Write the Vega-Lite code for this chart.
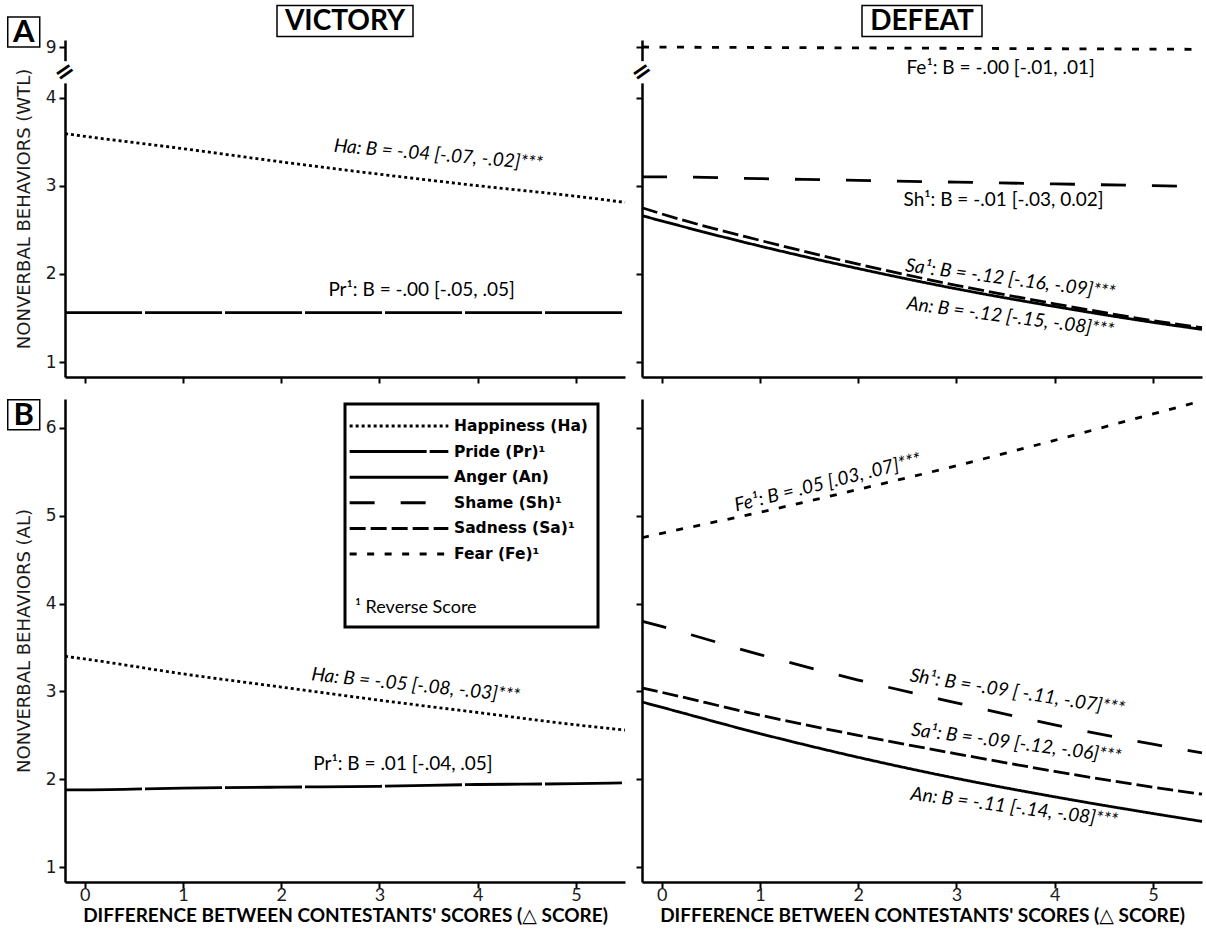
{
  "$schema": "https://vega.github.io/schema/vega-lite/v6.json",
  "padding": {"left": 4, "top": 2, "right": 4, "bottom": 2},
  "background": "white",
  "config": {
    "view": {"stroke": null},
    "axis": {"domainColor": "black", "domainWidth": 2.5, "tickColor": "black", "tickWidth": 2, "tickSize": 6, "grid": false, "labelColor": "#1a1a1a", "titleColor": "#1a1a1a"},
    "legend": {"strokeWidth": 3, "strokeColor": "black"}
  },
  "spacing": 11,
  "resolve": {"scale": {"strokeDash": "shared"}, "legend": {"strokeDash": "shared"}},
  "vconcat": [
    {
      "spacing": 17,
      "bounds": "flush",
      "hconcat": [
        {
          "width": 560, "height": 337,
          "encoding": {
            "x": {"field": "x", "type": "quantitative", "scale": {"domain": [-0.2, 5.5], "nice": false, "zero": false}, "axis": {"values": [0,1,2,3,4,5], "labels": false, "title": null}},
            "y": {"field": "y", "type": "quantitative", "scale": {"domain": [0.83, 4, 9, 9.7], "range": [337, 57.5, 7, 0], "nice": false, "zero": false}, "axis": {"values": [1,2,3,4,9], "title": "NONVERBAL BEHAVIORS (WTL)", "labelFont": "DejaVu Sans", "labelFontSize": 17, "labelPadding": 3, "titleFont": "DejaVu Sans", "titleFontSize": 18, "titleFontWeight": "normal", "titlePadding": 12}}
          },
          "layer": [
            {
              "data": {"values": [
                {"emotion": "Happiness (Ha)", "x": -0.2, "y": 3.59}, {"emotion": "Happiness (Ha)", "x": 0, "y": 3.56}, {"emotion": "Happiness (Ha)", "x": 1, "y": 3.42}, {"emotion": "Happiness (Ha)", "x": 2, "y": 3.27}, {"emotion": "Happiness (Ha)", "x": 3, "y": 3.13}, {"emotion": "Happiness (Ha)", "x": 4, "y": 3.0}, {"emotion": "Happiness (Ha)", "x": 5, "y": 2.88}, {"emotion": "Happiness (Ha)", "x": 5.5, "y": 2.81},
                {"emotion": "Pride (Pr)¹", "x": -0.2, "y": 1.56}, {"emotion": "Pride (Pr)¹", "x": 0, "y": 1.56}, {"emotion": "Pride (Pr)¹", "x": 1, "y": 1.56}, {"emotion": "Pride (Pr)¹", "x": 2, "y": 1.56}, {"emotion": "Pride (Pr)¹", "x": 3, "y": 1.56}, {"emotion": "Pride (Pr)¹", "x": 4, "y": 1.56}, {"emotion": "Pride (Pr)¹", "x": 5, "y": 1.56}, {"emotion": "Pride (Pr)¹", "x": 5.5, "y": 1.56}
              ]},
              "mark": {"type": "line", "interpolate": "monotone", "color": "black", "strokeWidth": 2.8},
              "encoding": {
                "strokeDash": {"field": "emotion", "type": "nominal",
                  "scale": {"domain": ["Happiness (Ha)", "Pride (Pr)¹", "Anger (An)", "Shame (Sh)¹", "Sadness (Sa)¹", "Fear (Fe)¹"], "range": [[3,3],[77,3],[1,0],[25,26],[16,5],[7,10.5]]},
                  "legend": {"orient": "none", "legendX": 280, "legendY": 364, "title": "¹ Reverse Score", "titleOrient": "bottom", "titleAnchor": "start", "titleFont": "Lato", "titleFontSize": 18, "titleFontWeight": "normal", "titleColor": "black", "titlePadding": 36, "symbolType": "M-4.7,0H4.7", "symbolSize": 441, "symbolStrokeWidth": 3, "symbolStrokeColor": "black", "symbolOffset": 32, "labelFont": "DejaVu Sans", "labelFontWeight": "bold", "labelFontSize": 15.5, "labelColor": "black", "labelOffset": 43, "labelLimit": 300, "rowPadding": 4.6, "padding": 10, "strokeColor": "black", "fillColor": "white"}
                }
              }
            },
            {
              "data": {"values": [{"x": -0.2, "y": 5.4, "y2": 7.6}]},
              "mark": {"type": "rule", "color": "white", "strokeWidth": 8},
              "encoding": {"y2": {"field": "y2"}}
            },
            {
              "data": {"values": [{"x": -0.2, "y": 6.5}]},
              "mark": {"type": "text", "text": "=", "font": "DejaVu Sans", "fontSize": 24, "fontWeight": "bold", "angle": -35, "align": "center", "baseline": "middle", "color": "black"}
            },
            {
              "data": {"values": [{"x": 3.6, "y": 3.35, "label": "Ha: B = -.04 [-.07, -.02]***"}]},
              "mark": {"type": "text", "font": "Lato", "fontSize": 19, "fontStyle": "italic", "angle": 5, "align": "center", "baseline": "middle", "color": "black"},
              "encoding": {"text": {"field": "label"}}
            },
            {
              "data": {"values": [{"x": 3.43, "y": 1.82, "label": "Pr¹: B = -.00 [-.05, .05]"}]},
              "mark": {"type": "text", "font": "Lato", "fontSize": 19, "align": "center", "baseline": "middle", "color": "black"},
              "encoding": {"text": {"field": "label"}}
            },
            {
              "data": {"values": [{"x": 2.65, "y": 11.6, "label": "VICTORY"}]},
              "mark": {"type": "point", "shape": "M-1,-0.228H1V0.228H-1Z", "size": 18496, "filled": false, "stroke": "black", "strokeWidth": 1.5, "opacity": 1}
            },
            {
              "data": {"values": [{"x": 2.65, "y": 11.6, "label": "VICTORY"}]},
              "mark": {"type": "text", "font": "Lato", "fontSize": 28, "fontWeight": "bold", "align": "center", "baseline": "middle", "dy": 1, "color": "black"},
              "encoding": {"text": {"field": "label"}}
            },
            {
              "data": {"values": [{"x": -0.62, "y": 10.5, "label": "A"}]},
              "mark": {"type": "point", "shape": "M-1,-0.94H1V0.94H-1Z", "size": 1024, "filled": false, "stroke": "black", "strokeWidth": 1.5, "opacity": 1}
            },
            {
              "data": {"values": [{"x": -0.62, "y": 10.5, "label": "A"}]},
              "mark": {"type": "text", "font": "Lato", "fontSize": 31, "fontWeight": "bold", "align": "center", "baseline": "middle", "dy": 1, "color": "black"},
              "encoding": {"text": {"field": "label"}}
            }
          ]
        },
        {
          "width": 560, "height": 337,
          "encoding": {
            "x": {"field": "x", "type": "quantitative", "scale": {"domain": [-0.2, 5.5], "nice": false, "zero": false}, "axis": {"values": [0,1,2,3,4,5], "labels": false, "title": null}},
            "y": {"field": "y", "type": "quantitative", "scale": {"domain": [0.83, 4, 9, 9.7], "range": [337, 57.5, 7, 0], "nice": false, "zero": false}, "axis": {"values": [1,2,3,4,9], "labels": false, "title": null}}
          },
          "layer": [
            {
              "data": {"values": [
                {"emotion": "Fear (Fe)¹", "x": -0.2, "y": 9.0}, {"emotion": "Fear (Fe)¹", "x": 0, "y": 8.99}, {"emotion": "Fear (Fe)¹", "x": 1, "y": 8.95}, {"emotion": "Fear (Fe)¹", "x": 2, "y": 8.91}, {"emotion": "Fear (Fe)¹", "x": 3, "y": 8.87}, {"emotion": "Fear (Fe)¹", "x": 4, "y": 8.83}, {"emotion": "Fear (Fe)¹", "x": 5, "y": 8.79}, {"emotion": "Fear (Fe)¹", "x": 5.5, "y": 8.77},
                {"emotion": "Shame (Sh)¹", "x": -0.2, "y": 3.1}, {"emotion": "Shame (Sh)¹", "x": 0, "y": 3.1}, {"emotion": "Shame (Sh)¹", "x": 1, "y": 3.08}, {"emotion": "Shame (Sh)¹", "x": 2, "y": 3.06}, {"emotion": "Shame (Sh)¹", "x": 3, "y": 3.04}, {"emotion": "Shame (Sh)¹", "x": 4, "y": 3.02}, {"emotion": "Shame (Sh)¹", "x": 5, "y": 3.0}, {"emotion": "Shame (Sh)¹", "x": 5.5, "y": 2.99},
                {"emotion": "Sadness (Sa)¹", "x": -0.2, "y": 2.75}, {"emotion": "Sadness (Sa)¹", "x": 0, "y": 2.68}, {"emotion": "Sadness (Sa)¹", "x": 1, "y": 2.38}, {"emotion": "Sadness (Sa)¹", "x": 2, "y": 2.11}, {"emotion": "Sadness (Sa)¹", "x": 3, "y": 1.87}, {"emotion": "Sadness (Sa)¹", "x": 4, "y": 1.66}, {"emotion": "Sadness (Sa)¹", "x": 5, "y": 1.47}, {"emotion": "Sadness (Sa)¹", "x": 5.5, "y": 1.39},
                {"emotion": "Anger (An)", "x": -0.2, "y": 2.66}, {"emotion": "Anger (An)", "x": 0, "y": 2.6}, {"emotion": "Anger (An)", "x": 1, "y": 2.315}, {"emotion": "Anger (An)", "x": 2, "y": 2.06}, {"emotion": "Anger (An)", "x": 3, "y": 1.83}, {"emotion": "Anger (An)", "x": 4, "y": 1.63}, {"emotion": "Anger (An)", "x": 5, "y": 1.45}, {"emotion": "Anger (An)", "x": 5.5, "y": 1.37}
              ]},
              "mark": {"type": "line", "interpolate": "monotone", "color": "black", "strokeWidth": 2.8},
              "encoding": {
                "strokeDash": {"field": "emotion", "type": "nominal",
                  "scale": {"domain": ["Happiness (Ha)", "Pride (Pr)¹", "Anger (An)", "Shame (Sh)¹", "Sadness (Sa)¹", "Fear (Fe)¹"], "range": [[3,3],[77,3],[1,0],[25,26],[16,5],[7,10.5]]}
                }
              }
            },
            {
              "data": {"values": [{"x": -0.2, "y": 5.4, "y2": 7.6}]},
              "mark": {"type": "rule", "color": "white", "strokeWidth": 8},
              "encoding": {"y2": {"field": "y2"}}
            },
            {
              "data": {"values": [{"x": -0.2, "y": 6.5}]},
              "mark": {"type": "text", "text": "=", "font": "DejaVu Sans", "fontSize": 24, "fontWeight": "bold", "angle": -35, "align": "center", "baseline": "middle", "color": "black"}
            },
            {
              "data": {"values": [{"x": 3.45, "y": 6.92, "label": "Fe¹: B = -.00 [-.01, .01]"}, {"x": 3.48, "y": 2.84, "label": "Sh¹: B = -.01 [-.03, 0.02]"}]},
              "mark": {"type": "text", "font": "Lato", "fontSize": 19, "align": "center", "baseline": "middle", "color": "black"},
              "encoding": {"text": {"field": "label"}}
            },
            {
              "data": {"values": [{"x": 3.55, "y": 1.94, "label": "Sa¹: B = -.12 [-.16, -.09]***"}, {"x": 3.55, "y": 1.51, "label": "An: B = -.12 [-.15, -.08]***"}]},
              "mark": {"type": "text", "font": "Lato", "fontSize": 19, "fontStyle": "italic", "angle": 7.5, "align": "center", "baseline": "middle", "color": "black"},
              "encoding": {"text": {"field": "label"}}
            },
            {
              "data": {"values": [{"x": 2.65, "y": 11.6, "label": "DEFEAT"}]},
              "mark": {"type": "point", "shape": "M-1,-0.258H1V0.258H-1Z", "size": 14400, "filled": false, "stroke": "black", "strokeWidth": 1.5, "opacity": 1}
            },
            {
              "data": {"values": [{"x": 2.65, "y": 11.6, "label": "DEFEAT"}]},
              "mark": {"type": "text", "font": "Lato", "fontSize": 28, "fontWeight": "bold", "align": "center", "baseline": "middle", "dy": 1, "color": "black"},
              "encoding": {"text": {"field": "label"}}
            }
          ]
        }
      ]
    },
    {
      "spacing": 17,
      "bounds": "flush",
      "hconcat": [
        {
          "width": 560, "height": 483,
          "encoding": {
            "x": {"field": "x", "type": "quantitative", "scale": {"domain": [-0.2, 5.5], "nice": false, "zero": false}, "axis": {"values": [0,1,2,3,4,5], "title": "DIFFERENCE BETWEEN CONTESTANTS' SCORES (△ SCORE)", "labelFont": "Lato", "labelFontSize": 18, "labelPadding": -2, "titleFont": "Lato, DejaVu Sans", "titleFontSize": 19, "titleFontWeight": "bold", "titleColor": "black", "titlePadding": 2}},
            "y": {"field": "y", "type": "quantitative", "scale": {"domain": [0.83, 6.33], "nice": false, "zero": false}, "axis": {"values": [1,2,3,4,5,6], "title": "NONVERBAL BEHAVIORS (AL)", "labelFont": "DejaVu Sans", "labelFontSize": 17, "labelPadding": 3, "titleFont": "DejaVu Sans", "titleFontSize": 18, "titleFontWeight": "normal", "titlePadding": 12}}
          },
          "layer": [
            {
              "data": {"values": [
                {"emotion": "Happiness (Ha)", "x": -0.2, "y": 3.4}, {"emotion": "Happiness (Ha)", "x": 0, "y": 3.37}, {"emotion": "Happiness (Ha)", "x": 1, "y": 3.2}, {"emotion": "Happiness (Ha)", "x": 2, "y": 3.05}, {"emotion": "Happiness (Ha)", "x": 3, "y": 2.9}, {"emotion": "Happiness (Ha)", "x": 4, "y": 2.76}, {"emotion": "Happiness (Ha)", "x": 5, "y": 2.62}, {"emotion": "Happiness (Ha)", "x": 5.5, "y": 2.56},
                {"emotion": "Pride (Pr)¹", "x": -0.2, "y": 1.88}, {"emotion": "Pride (Pr)¹", "x": 0, "y": 1.88}, {"emotion": "Pride (Pr)¹", "x": 1, "y": 1.9}, {"emotion": "Pride (Pr)¹", "x": 2, "y": 1.91}, {"emotion": "Pride (Pr)¹", "x": 3, "y": 1.92}, {"emotion": "Pride (Pr)¹", "x": 4, "y": 1.94}, {"emotion": "Pride (Pr)¹", "x": 5, "y": 1.95}, {"emotion": "Pride (Pr)¹", "x": 5.5, "y": 1.96}
              ]},
              "mark": {"type": "line", "interpolate": "monotone", "color": "black", "strokeWidth": 2.8},
              "encoding": {
                "strokeDash": {"field": "emotion", "type": "nominal",
                  "scale": {"domain": ["Happiness (Ha)", "Pride (Pr)¹", "Anger (An)", "Shame (Sh)¹", "Sadness (Sa)¹", "Fear (Fe)¹"], "range": [[3,3],[77,3],[1,0],[25,26],[16,5],[7,10.5]]}
                }
              }
            },
            {
              "data": {"values": [{"x": 3.37, "y": 3.07, "label": "Ha: B = -.05 [-.08, -.03]***"}]},
              "mark": {"type": "text", "font": "Lato", "fontSize": 19, "fontStyle": "italic", "angle": 6, "align": "center", "baseline": "middle", "color": "black"},
              "encoding": {"text": {"field": "label"}}
            },
            {
              "data": {"values": [{"x": 3.24, "y": 2.17, "label": "Pr¹: B = .01 [-.04, .05]"}]},
              "mark": {"type": "text", "font": "Lato", "fontSize": 19, "align": "center", "baseline": "middle", "color": "black"},
              "encoding": {"text": {"field": "label"}}
            },
            {
              "data": {"values": [{"x": -0.62, "y": 6.15, "label": "B"}]},
              "mark": {"type": "point", "shape": "M-1,-0.94H1V0.94H-1Z", "size": 1024, "filled": false, "stroke": "black", "strokeWidth": 1.5, "opacity": 1}
            },
            {
              "data": {"values": [{"x": -0.62, "y": 6.15, "label": "B"}]},
              "mark": {"type": "text", "font": "Lato", "fontSize": 31, "fontWeight": "bold", "align": "center", "baseline": "middle", "dy": 1, "color": "black"},
              "encoding": {"text": {"field": "label"}}
            }
          ]
        },
        {
          "width": 560, "height": 483,
          "encoding": {
            "x": {"field": "x", "type": "quantitative", "scale": {"domain": [-0.2, 5.5], "nice": false, "zero": false}, "axis": {"values": [0,1,2,3,4,5], "title": "DIFFERENCE BETWEEN CONTESTANTS' SCORES (△ SCORE)", "labelFont": "Lato", "labelFontSize": 18, "labelPadding": -2, "titleFont": "Lato, DejaVu Sans", "titleFontSize": 19, "titleFontWeight": "bold", "titleColor": "black", "titlePadding": 2}},
            "y": {"field": "y", "type": "quantitative", "scale": {"domain": [0.83, 6.33], "nice": false, "zero": false}, "axis": {"values": [1,2,3,4,5,6], "labels": false, "title": null}}
          },
          "layer": [
            {
              "data": {"values": [
                {"emotion": "Fear (Fe)¹", "x": -0.2, "y": 4.75}, {"emotion": "Fear (Fe)¹", "x": 0, "y": 4.8}, {"emotion": "Fear (Fe)¹", "x": 1, "y": 5.04}, {"emotion": "Fear (Fe)¹", "x": 2, "y": 5.3}, {"emotion": "Fear (Fe)¹", "x": 3, "y": 5.57}, {"emotion": "Fear (Fe)¹", "x": 4, "y": 5.86}, {"emotion": "Fear (Fe)¹", "x": 5, "y": 6.16}, {"emotion": "Fear (Fe)¹", "x": 5.5, "y": 6.31},
                {"emotion": "Shame (Sh)¹", "x": -0.2, "y": 3.8}, {"emotion": "Shame (Sh)¹", "x": 0, "y": 3.74}, {"emotion": "Shame (Sh)¹", "x": 1, "y": 3.42}, {"emotion": "Shame (Sh)¹", "x": 2, "y": 3.13}, {"emotion": "Shame (Sh)¹", "x": 3, "y": 2.87}, {"emotion": "Shame (Sh)¹", "x": 4, "y": 2.62}, {"emotion": "Shame (Sh)¹", "x": 5, "y": 2.4}, {"emotion": "Shame (Sh)¹", "x": 5.5, "y": 2.3},
                {"emotion": "Sadness (Sa)¹", "x": -0.2, "y": 3.04}, {"emotion": "Sadness (Sa)¹", "x": 0, "y": 2.99}, {"emotion": "Sadness (Sa)¹", "x": 1, "y": 2.73}, {"emotion": "Sadness (Sa)¹", "x": 2, "y": 2.5}, {"emotion": "Sadness (Sa)¹", "x": 3, "y": 2.29}, {"emotion": "Sadness (Sa)¹", "x": 4, "y": 2.09}, {"emotion": "Sadness (Sa)¹", "x": 5, "y": 1.91}, {"emotion": "Sadness (Sa)¹", "x": 5.5, "y": 1.83},
                {"emotion": "Anger (An)", "x": -0.2, "y": 2.88}, {"emotion": "Anger (An)", "x": 0, "y": 2.82}, {"emotion": "Anger (An)", "x": 1, "y": 2.52}, {"emotion": "Anger (An)", "x": 2, "y": 2.25}, {"emotion": "Anger (An)", "x": 3, "y": 2.01}, {"emotion": "Anger (An)", "x": 4, "y": 1.8}, {"emotion": "Anger (An)", "x": 5, "y": 1.61}, {"emotion": "Anger (An)", "x": 5.5, "y": 1.52}
              ]},
              "mark": {"type": "line", "interpolate": "monotone", "color": "black", "strokeWidth": 2.8},
              "encoding": {
                "strokeDash": {"field": "emotion", "type": "nominal",
                  "scale": {"domain": ["Happiness (Ha)", "Pride (Pr)¹", "Anger (An)", "Shame (Sh)¹", "Sadness (Sa)¹", "Fear (Fe)¹"], "range": [[3,3],[77,3],[1,0],[25,26],[16,5],[7,10.5]]}
                }
              }
            },
            {
              "data": {"values": [{"x": 1.69, "y": 5.38, "label": "Fe¹: B = .05 [.03, .07]***"}]},
              "mark": {"type": "text", "font": "Lato", "fontSize": 19, "fontStyle": "italic", "angle": -14, "align": "center", "baseline": "middle", "color": "black"},
              "encoding": {"text": {"field": "label"}}
            },
            {
              "data": {"values": [{"x": 3.62, "y": 2.99, "label": "Sh¹: B = -.09 [ -.11, -.07]***"}]},
              "mark": {"type": "text", "font": "Lato", "fontSize": 19, "fontStyle": "italic", "angle": 9, "align": "center", "baseline": "middle", "color": "black"},
              "encoding": {"text": {"field": "label"}}
            },
            {
              "data": {"values": [{"x": 3.61, "y": 2.41, "label": "Sa¹: B = -.09 [-.12, -.06]***"}, {"x": 3.59, "y": 1.68, "label": "An: B = -.11 [-.14, -.08]***"}]},
              "mark": {"type": "text", "font": "Lato", "fontSize": 19, "fontStyle": "italic", "angle": 7.5, "align": "center", "baseline": "middle", "color": "black"},
              "encoding": {"text": {"field": "label"}}
            }
          ]
        }
      ]
    }
  ]
}
